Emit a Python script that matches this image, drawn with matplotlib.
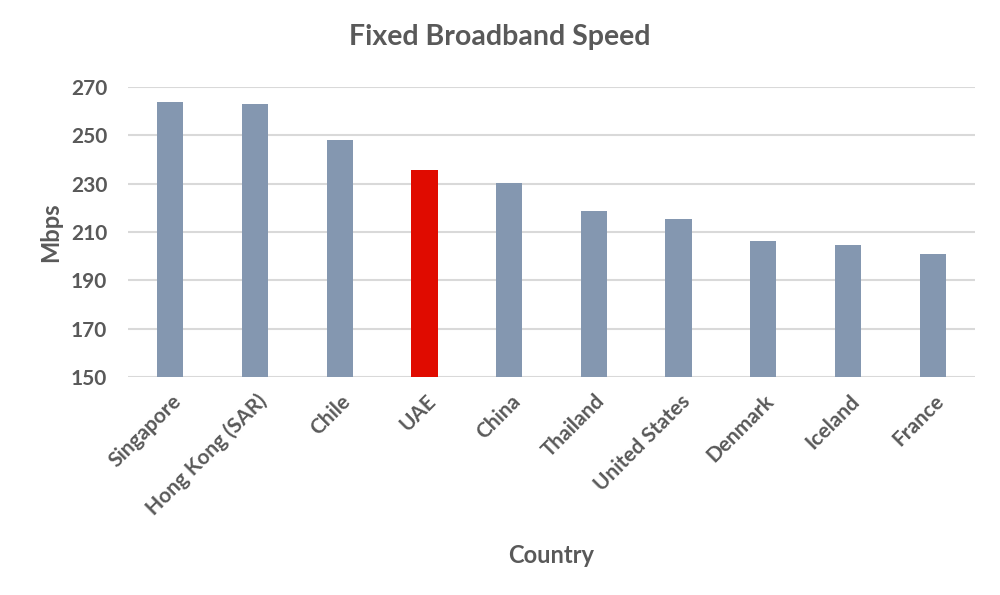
import numpy as np
import matplotlib.pyplot as plt
import matplotlib.transforms as mtransforms

countries = ['Singapore', 'Hong Kong (SAR)', 'Chile', 'UAE', 'China',
             'Thailand', 'United States', 'Denmark', 'Iceland', 'France']
speeds = [263.8, 262.8, 248.0, 235.6, 230.1, 218.6, 215.3, 206.2, 204.6, 200.7]
highlight = 'UAE'
yticks = [150, 170, 190, 210, 230, 250, 270]

grey = '#595959'
plt.rcParams['font.family'] = ['Lato', 'DejaVu Sans']
plt.rcParams['font.weight'] = 'bold'

fig = plt.figure(figsize=(10, 5.95), dpi=100)
ax = fig.add_axes([0.128, 0.3664, 0.847, 0.4874])

x = np.arange(len(countries))
colors = ['#E00B00' if c == highlight else '#8497B0' for c in countries]
ax.bar(x, speeds, width=0.31, color=colors, zorder=3)

ax.set_xlim(-0.5, len(countries) - 0.5)
ax.set_ylim(150, 270)
ax.set_yticks(yticks)
ax.yaxis.grid(True, color='#D9D9D9', linewidth=1.5, zorder=0)
for s in ax.spines.values():
    s.set_visible(False)
ax.tick_params(axis='both', length=0, colors=grey, labelsize=15)
ax.tick_params(axis='y', pad=15)

ax.set_xticks(x)
ax.set_xticklabels(countries, rotation=45, ha='right', va='top',
                   rotation_mode='anchor', fontsize=15, color=grey)
# nudge rotated labels so their ends sit just below the bars
offset = mtransforms.ScaledTranslation(0.01, -0.09, fig.dpi_scale_trans)
for lbl in ax.get_xticklabels():
    lbl.set_transform(lbl.get_transform() + offset)

ax.set_ylabel('Mbps', fontsize=17, color=grey, fontweight='bold', labelpad=6)
ax.set_xlabel('Country', fontsize=17, color=grey, fontweight='bold', labelpad=18)
fig.text(0.5, 0.937, 'Fixed Broadband Speed', ha='center', va='center',
         fontsize=20.5, color=grey, fontweight='bold')

fig.savefig('out.png')
